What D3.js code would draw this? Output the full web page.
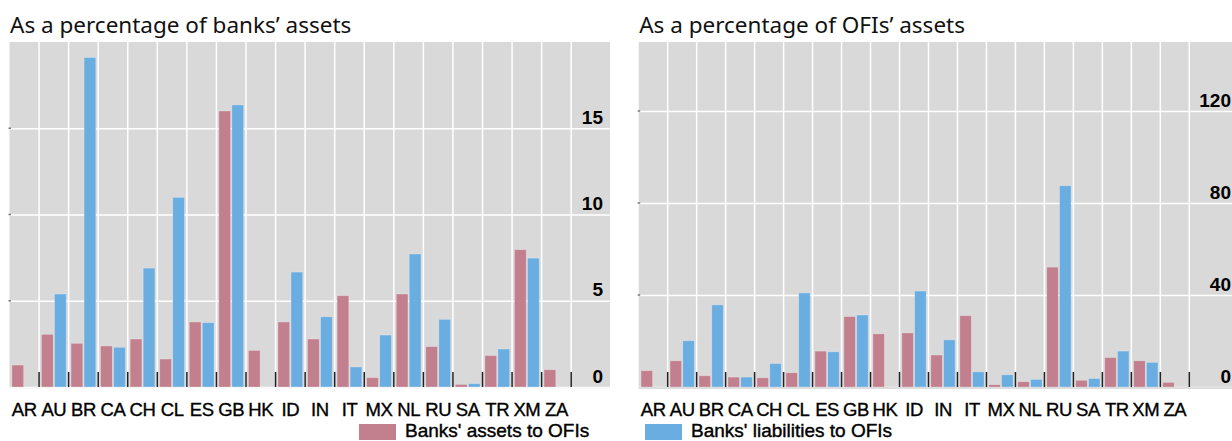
<!DOCTYPE html>
<html>
<head>
<meta charset="utf-8">
<script src="https://cdn.jsdelivr.net/npm/d3@7"></script>
<style>
  body { margin: 0; background: #fff; }
  svg { display: block; }
</style>
</head>
<body>
<svg id="chart" width="1232" height="441"></svg>
<script>
// (DATA) categories and values
var categories = ["AR", "AU", "BR", "CA", "CH", "CL", "ES", "GB", "HK", "ID",
                  "IN", "IT", "MX", "NL", "RU", "SA", "TR", "XM", "ZA"];

// left panel: as a percentage of banks' assets
var banksAssetsToOfis = [1.27, 3.05, 2.53, 2.38, 2.78, 1.62, 3.77, 16.0, 2.12, 3.77,
                         2.78, 5.29, 0.54, 5.39, 2.34, 0.15, 1.82, 7.96, 1.0];
var banksLiabToOfis   = [null, 5.39, 19.1, 2.3, 6.89, 10.99, 3.73, 16.35, null, 6.66,
                         4.07, 1.16, 3.01, 7.71, 3.92, 0.19, 2.2, 7.47, null];

// right panel: as a percentage of OFIs' assets
var ofiAssetsToOfis = [7.1, 11.4, 4.9, 4.3, 4.0, 6.2, 15.6, 30.6, 23.1, 23.5,
                       13.9, 31.0, 1.0, 2.3, 52.1, 2.9, 12.8, 11.4, 2.0];
var ofiLiabToOfis   = [null, 20.1, 35.7, 4.3, 10.2, 40.9, 15.3, 31.3, null, 41.7,
                       20.5, 6.6, 5.3, 3.3, 87.5, 3.7, 15.6, 10.7, null];

var leftTicks = [0, 5, 10, 15];
var rightTicks = [0, 40, 80, 120];
var seriesNames = ["Banks' assets to OFIs", "Banks' liabilities to OFIs"];
var seriesColors = ["#c27f8e", "#6aade1"];

var svg = d3.select("#chart");
var top_ = 42, bottom = 387;
var labelFont = "'Liberation Sans', Arial, sans-serif";

// function to draw one panel
function drawPanel(p) {
    var g = svg.append("g");

    // title
    svg.append("text")
        .attr("x", p.left + 0.5)
        .attr("y", 33)
        .attr("font-family", "'Noto Sans', 'Open Sans', sans-serif")
        .attr("font-size", 22.5)
        .attr("fill", "#111")
        .text(p.title);

    // (SCALES)
    var x = d3.scaleBand()
        .domain(categories)
        .range([p.left, p.catEnd])
        .paddingInner(0)
        .paddingOuter(0);

    var x1 = d3.scaleBand()
        .domain([0, 1])
        .range([0, x.bandwidth()])
        .paddingInner(0.1)
        .paddingOuter(0.185);

    var y = d3.scaleLinear()
        .domain([0, p.max])
        .range([bottom, top_]);

    // background
    g.append("rect")
        .attr("x", p.left)
        .attr("y", top_)
        .attr("width", p.right - p.left)
        .attr("height", bottom - top_ + 1)
        .attr("fill", "#d9d9d9");

    // horizontal gridlines via axis
    var yAxis = d3.axisLeft(y)
        .tickValues(p.ticks)
        .tickSize(-(p.right - p.left))
        .tickFormat("");
    var ga = g.append("g")
        .attr("transform", "translate(" + p.left + ",0)")
        .call(yAxis);
    ga.select(".domain").remove();
    ga.selectAll(".tick line").attr("stroke", "#fff").attr("stroke-width", 1.5);

    // vertical gridlines at category boundaries
    var bounds = categories.slice(1).map(function(c) { return x(c); });
    bounds.push(p.catEnd);
    g.selectAll(".vgrid")
        .data(bounds)
        .enter()
        .append("line")
        .attr("x1", function(d) { return d; })
        .attr("x2", function(d) { return d; })
        .attr("y1", top_)
        .attr("y2", bottom)
        .attr("stroke", "#fff")
        .attr("stroke-width", 1.5);

    // small marks on the left edge
    g.selectAll(".lmark")
        .data(p.ticks.slice(1))
        .enter()
        .append("line")
        .attr("x1", p.left - 1)
        .attr("x2", p.left + 1.5)
        .attr("y1", function(d) { return y(d); })
        .attr("y2", function(d) { return y(d); })
        .attr("stroke", "#777")
        .attr("stroke-width", 1.5);

    // (BARS)
    [p.a, p.b].forEach(function(series, s) {
        g.selectAll(".bar" + s)
            .data(series.map(function(v, i) { return { c: categories[i], v: v }; })
                        .filter(function(d) { return d.v !== null; }))
            .enter()
            .append("rect")
            .attr("x", function(d) { return x(d.c) + x1(s); })
            .attr("y", function(d) { return y(d.v); })
            .attr("width", x1.bandwidth())
            .attr("height", function(d) { return bottom - y(d.v); })
            .attr("fill", seriesColors[s])
            .attr("stroke", "rgba(255,255,255,0.3)")
            .attr("stroke-width", 0.8);
    });

    // black ticks at category boundaries
    g.selectAll(".xtick")
        .data(bounds)
        .enter()
        .append("line")
        .attr("x1", function(d) { return d; })
        .attr("x2", function(d) { return d; })
        .attr("y1", bottom - 15)
        .attr("y2", bottom)
        .attr("stroke", "#222")
        .attr("stroke-width", 1.5);

    // bottom line
    g.append("line")
        .attr("x1", p.left)
        .attr("x2", p.right)
        .attr("y1", bottom + 1)
        .attr("y2", bottom + 1)
        .attr("stroke", p.bottomColor)
        .attr("stroke-width", 1);

    // category labels
    var xAxis = d3.axisBottom(x).tickSize(0).tickPadding(0);
    var gx = svg.append("g")
        .attr("transform", "translate(0," + bottom + ")")
        .call(xAxis);
    gx.select(".domain").remove();
    gx.selectAll("text")
        .attr("y", 29)
        .attr("dy", 0)
        .attr("font-family", labelFont)
        .attr("font-size", 18.5)
        .attr("letter-spacing", -0.4)
        .attr("fill", "#000")
        .attr("stroke", "#000")
        .attr("stroke-width", 0.35);

    // y labels inside plot on the right
    svg.selectAll(".ylab" + p.id)
        .data(p.ticks)
        .enter()
        .append("text")
        .attr("x", p.labelX)
        .attr("y", function(d) { return y(d) - 4.5; })
        .attr("text-anchor", "end")
        .attr("font-family", labelFont)
        .attr("font-weight", "bold")
        .attr("font-size", 19)
        .attr("fill", "#000")
        .text(function(d) { return d; });
}

drawPanel({ id: "l", title: "As a percentage of banks\u2019 assets",
            left: 9.5, right: 610, catEnd: 571.2, labelX: 603,
            max: 20, ticks: leftTicks,
            a: banksAssetsToOfis, b: banksLiabToOfis, bottomColor: "#f2f2f2" });

drawPanel({ id: "r", title: "As a percentage of OFIs\u2019 assets",
            left: 638.7, right: 1244, catEnd: 1189.3, labelX: 1231,
            max: 150, ticks: rightTicks,
            a: ofiAssetsToOfis, b: ofiLiabToOfis, bottomColor: "#bbb" });

// (LEGEND)
var legendX = [359, 645];
seriesNames.forEach(function(name, i) {
    svg.append("rect")
        .attr("x", legendX[i])
        .attr("y", 424)
        .attr("width", 37)
        .attr("height", 16)
        .attr("fill", seriesColors[i]);
    svg.append("text")
        .attr("x", legendX[i] + 46)
        .attr("y", 437)
        .attr("font-family", labelFont)
        .attr("font-size", 19)
        .attr("fill", "#000")
        .attr("stroke", "#000")
        .attr("stroke-width", 0.4)
        .text(name);
});
</script>
</body>
</html>
